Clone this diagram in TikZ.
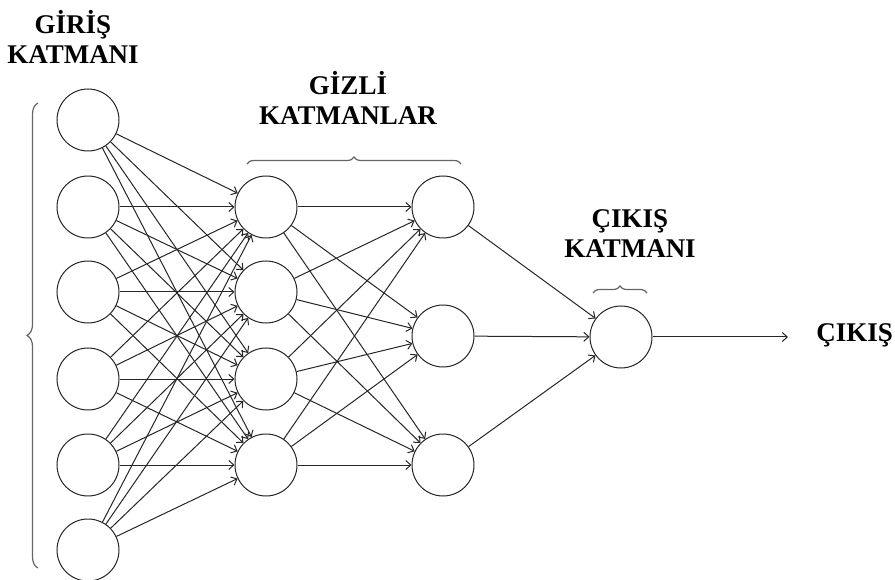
\documentclass[tikz,border=0pt]{standalone}
\usepackage{fontspec}
\setmainfont{Liberation Serif}
\usetikzlibrary{arrows.meta,decorations.pathreplacing}
\begin{document}
\begin{tikzpicture}[x=1pt,y=-1pt,
  neuron/.style={circle,draw=black!85,line width=1pt,minimum size=62pt,inner sep=0pt},
  conn/.style={draw=black!85,line width=1pt,-{Straight Barb[length=5pt,width=9pt]}},
  lbl/.style={font=\fontsize{27}{30}\selectfont\bfseries,align=center,inner sep=0pt},
  brc/.style={draw=black!60,line width=1.2pt,decorate,decoration={brace,amplitude=#1}}]
\useasboundingbox (0,0) rectangle (895,580);
% input layer
\foreach \i/\y in {1/120,2/207,3/292,4/379,5/465,6/550}
  \node[neuron] (i\i) at (88,\y) {};
% hidden layer 1
\foreach \i/\y in {1/207,2/292,3/379,4/465}
  \node[neuron] (h\i) at (266,\y) {};
% hidden layer 2
\foreach \i/\y in {1/207,2/336,3/465}
  \node[neuron] (g\i) at (443,\y) {};
% output
\node[neuron] (o) at (621,337) {};
% labels
\node[lbl] (lin) at (73,37) {GİRİŞ\\KATMANI};
\node[lbl] (lhid) at (348,98) {GİZLİ\\KATMANLAR};
\node[lbl] (lout) at (630,234) {ÇIKIŞ\\KATMANI};
\node[lbl,anchor=east] (lres) at (893,335) {ÇIKIŞ};
\coordinate (oend) at (788,337);
% connections
\foreach \a in {1,...,6}
  \foreach \b in {1,...,4}
    \draw[conn] (i\a) -- (h\b);
\foreach \a in {1,...,4}
  \foreach \b in {1,...,3}
    \draw[conn] (h\a) -- (g\b);
\foreach \a in {1,...,3}
  \draw[conn] (g\a) -- (o);
\draw[conn] (o) -- (oend);
% braces
\draw[brc=11pt] (38,568) -- (38,103);
\draw[brc=7pt] (247,164) -- (461,164);
\draw[brc=7pt] (593,293) -- (647,293);
\end{tikzpicture}
\end{document}
